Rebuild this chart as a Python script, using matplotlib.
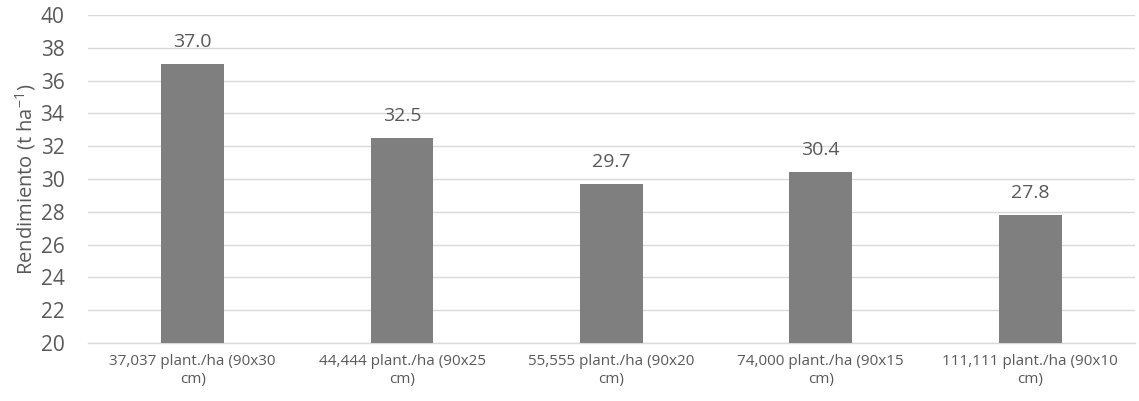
import matplotlib.pyplot as plt
import numpy as np

plt.rcParams['font.family'] = ['Open Sans', 'DejaVu Sans']

# data
categories = ['37,037 plant./ha (90x30\ncm)', '44,444 plant./ha (90x25\ncm)',
              '55,555 plant./ha (90x20\ncm)', '74,000 plant./ha (90x15\ncm)',
              '111,111 plant./ha (90x10\ncm)']
rendimiento = [37.0, 32.5, 29.7, 30.4, 27.8]
yticks = np.arange(20, 41, 2)

txt = '#595959'

fig = plt.figure(figsize=(11.39, 4.01), dpi=100)
ax = fig.add_axes([0.0773, 0.1446, 0.919, 0.818])

x = np.arange(len(categories))
bars = ax.bar(x, rendimiento, width=0.3, color='#7f7f7f', zorder=3)
for xi, v in zip(x, rendimiento):
    ax.text(xi, v + 0.8, '%.1f' % v, ha='center', va='bottom', fontsize=14, color=txt)

ax.set_ylim(20, 40)
ax.set_xlim(-0.5, len(categories) - 0.5)
ax.set_yticks(yticks)
ax.set_xticks(x)
ax.set_xticklabels(categories, fontsize=11, color=txt, linespacing=1.3)
ax.tick_params(axis='y', labelsize=15, labelcolor=txt, length=0, pad=17)
ax.tick_params(axis='x', length=0, pad=8)
ax.grid(axis='y', color='#d9d9d9', linewidth=1, zorder=0)
for s in ['top', 'right', 'left']:
    ax.spines[s].set_visible(False)
ax.spines['bottom'].set_color('#d9d9d9')
ax.spines['bottom'].set_linewidth(1)
ax.set_ylabel('Rendimiento (t ha$^{\\mathregular{-1}}$)', fontsize=14.5, color=txt, labelpad=2)

fig.savefig('out.png', dpi=100)
